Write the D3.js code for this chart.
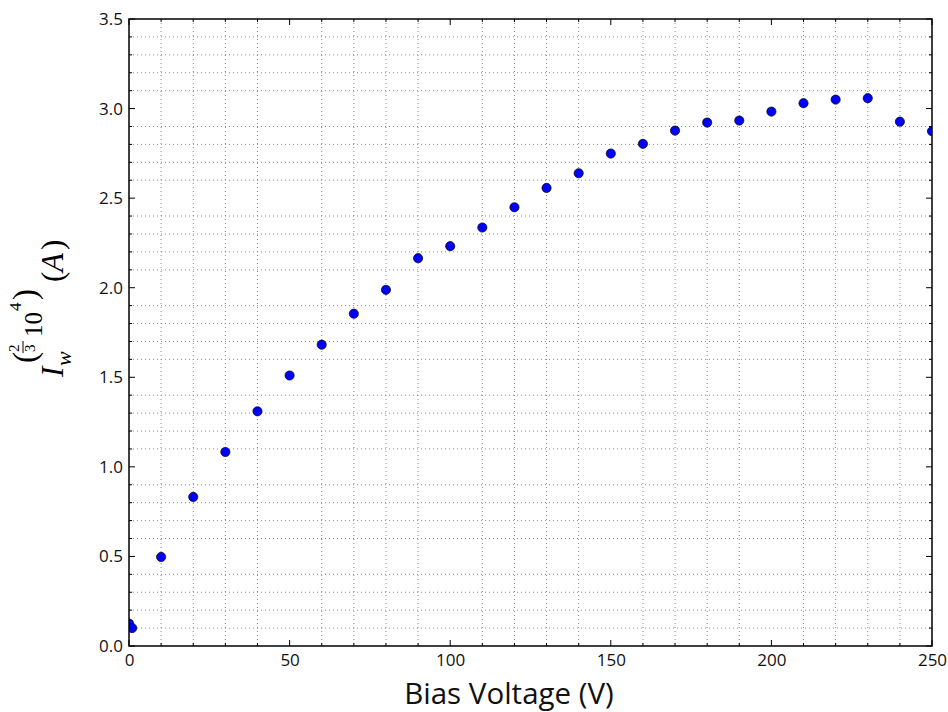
<!DOCTYPE html>
<html><head><meta charset="utf-8">
<script src="https://cdn.jsdelivr.net/npm/d3@7"></script>
<style>body{margin:0;background:#fff}svg{display:block}</style>
</head><body>
<svg id="c" width="948" height="712"></svg>
<script>
const voltage = [0, 1, 10, 20, 30, 40, 50, 60, 70, 80, 90, 100, 110, 120, 130, 140, 150, 160, 170, 180, 190, 200, 210, 220, 230, 240, 250];
const current = [0.125, 0.10, 0.497, 0.832, 1.083, 1.31, 1.51, 1.682, 1.855, 1.988, 2.165, 2.232, 2.336, 2.449, 2.557, 2.639, 2.749, 2.803, 2.877, 2.922, 2.933, 2.983, 3.03, 3.05, 3.058, 2.927, 2.874];
const xMajor = [0, 50, 100, 150, 200, 250];
const yMajor = [0.0, 0.5, 1.0, 1.5, 2.0, 2.5, 3.0, 3.5];
const xLabel = "Bias Voltage (V)";

const svg = d3.select("#c");
const L = 129, R = 932, T = 19, B = 646;
const x = d3.scaleLinear().domain([0, 250]).range([L, R]);
const y = d3.scaleLinear().domain([0, 3.5]).range([B, T]);

const xMinor = d3.range(0, 251, 10).filter(v => v % 50 !== 0);
const yMinor = d3.range(0, 36).map(v => v / 10).filter(v => Math.round(v * 10) % 5 !== 0);

// grid (minor positions only)
const g = svg.append("g");
g.selectAll(".gx").data(xMinor).join("line")
  .attr("x1", d => x(d)).attr("x2", d => x(d)).attr("y1", T).attr("y2", B)
  .attr("stroke", "#8a8a8a").attr("stroke-width", 1).attr("stroke-dasharray", "1,3");
g.selectAll(".gy").data(yMinor).join("line")
  .attr("y1", d => y(d)).attr("y2", d => y(d)).attr("x1", L).attr("x2", R)
  .attr("stroke", "#8a8a8a").attr("stroke-width", 1).attr("stroke-dasharray", "1,3");

// ticks inward on all sides
const tk = svg.append("g").attr("stroke", "#000").attr("stroke-width", 1);
function vt(vals, len) {
  vals.forEach(v => {
    tk.append("line").attr("x1", x(v)).attr("x2", x(v)).attr("y1", B).attr("y2", B - len);
    tk.append("line").attr("x1", x(v)).attr("x2", x(v)).attr("y1", T).attr("y2", T + len);
  });
}
function ht(vals, len) {
  vals.forEach(v => {
    tk.append("line").attr("y1", y(v)).attr("y2", y(v)).attr("x1", L).attr("x2", L + len);
    tk.append("line").attr("y1", y(v)).attr("y2", y(v)).attr("x1", R).attr("x2", R - len);
  });
}
vt(xMajor, 6); vt(xMinor, 3); ht(yMajor, 6); ht(yMinor, 3);

// axes labels via d3 axes (no tick lines)
const xa = svg.append("g").attr("transform", `translate(0,${B})`)
  .call(d3.axisBottom(x).tickValues(xMajor).tickSize(0).tickPadding(8).tickFormat(d3.format("d")));
const ya = svg.append("g").attr("transform", `translate(${L},0)`)
  .call(d3.axisLeft(y).tickValues(yMajor).tickSize(0).tickPadding(6).tickFormat(d3.format(".1f")));
[xa, ya].forEach(a => {
  a.select(".domain").remove();
  a.selectAll("text").attr("font-family", "Open Sans, sans-serif").attr("font-size", 17).attr("fill", "#111");
});

// points clipped
svg.append("clipPath").attr("id", "clip").append("rect")
  .attr("x", L).attr("y", T).attr("width", R - L).attr("height", B - T);
svg.append("g").attr("clip-path", "url(#clip)")
  .selectAll("circle").data(voltage.map((v, i) => [v, current[i]])).join("circle")
  .attr("cx", d => x(d[0])).attr("cy", d => y(d[1])).attr("r", 4.6)
  .attr("fill", "#0000ff").attr("stroke", "#000").attr("stroke-width", 0.7);

// frame
svg.append("rect").attr("x", L).attr("y", T).attr("width", R - L).attr("height", B - T)
  .attr("fill", "none").attr("stroke", "#000").attr("stroke-width", 1.5);

// x label
svg.append("text").attr("x", 509).attr("y", 704).attr("text-anchor", "middle")
  .attr("font-family", "Open Sans, sans-serif").attr("font-size", 29.5).attr("fill", "#111").text(xLabel);

// y label (math style)
const yl = svg.append("g").attr("transform", "translate(63,377) rotate(-90)")
  .attr("font-family", "Liberation Serif, serif").attr("fill", "#000");
yl.append("text").attr("x", 0).attr("y", 0).attr("font-size", 31).attr("font-style", "italic").text("I");
yl.append("text").attr("x", 11).attr("y", 8).attr("font-size", 22).attr("font-style", "italic").text("w");
yl.append("text").attr("x", 14).attr("y", -27).attr("font-size", 33).text("(");
yl.append("text").attr("x", 25).attr("y", -44).attr("font-size", 15).text("2");
yl.append("line").attr("x1", 24).attr("x2", 36).attr("y1", -40).attr("y2", -40).attr("stroke", "#000").attr("stroke-width", 1);
yl.append("text").attr("x", 25).attr("y", -28).attr("font-size", 15).text("3");
yl.append("text").attr("x", 40).attr("y", -21).attr("font-size", 25).text("10");
yl.append("text").attr("x", 66).attr("y", -42).attr("font-size", 17).text("4");
yl.append("text").attr("x", 77).attr("y", -27).attr("font-size", 33).text(")");
yl.append("text").attr("x", 95).attr("y", 0).attr("font-size", 31).text("(");
yl.append("text").attr("x", 105).attr("y", 0).attr("font-size", 31).attr("font-style", "italic").text("A");
yl.append("text").attr("x", 127).attr("y", 0).attr("font-size", 31).text(")");
</script>
</body></html>
